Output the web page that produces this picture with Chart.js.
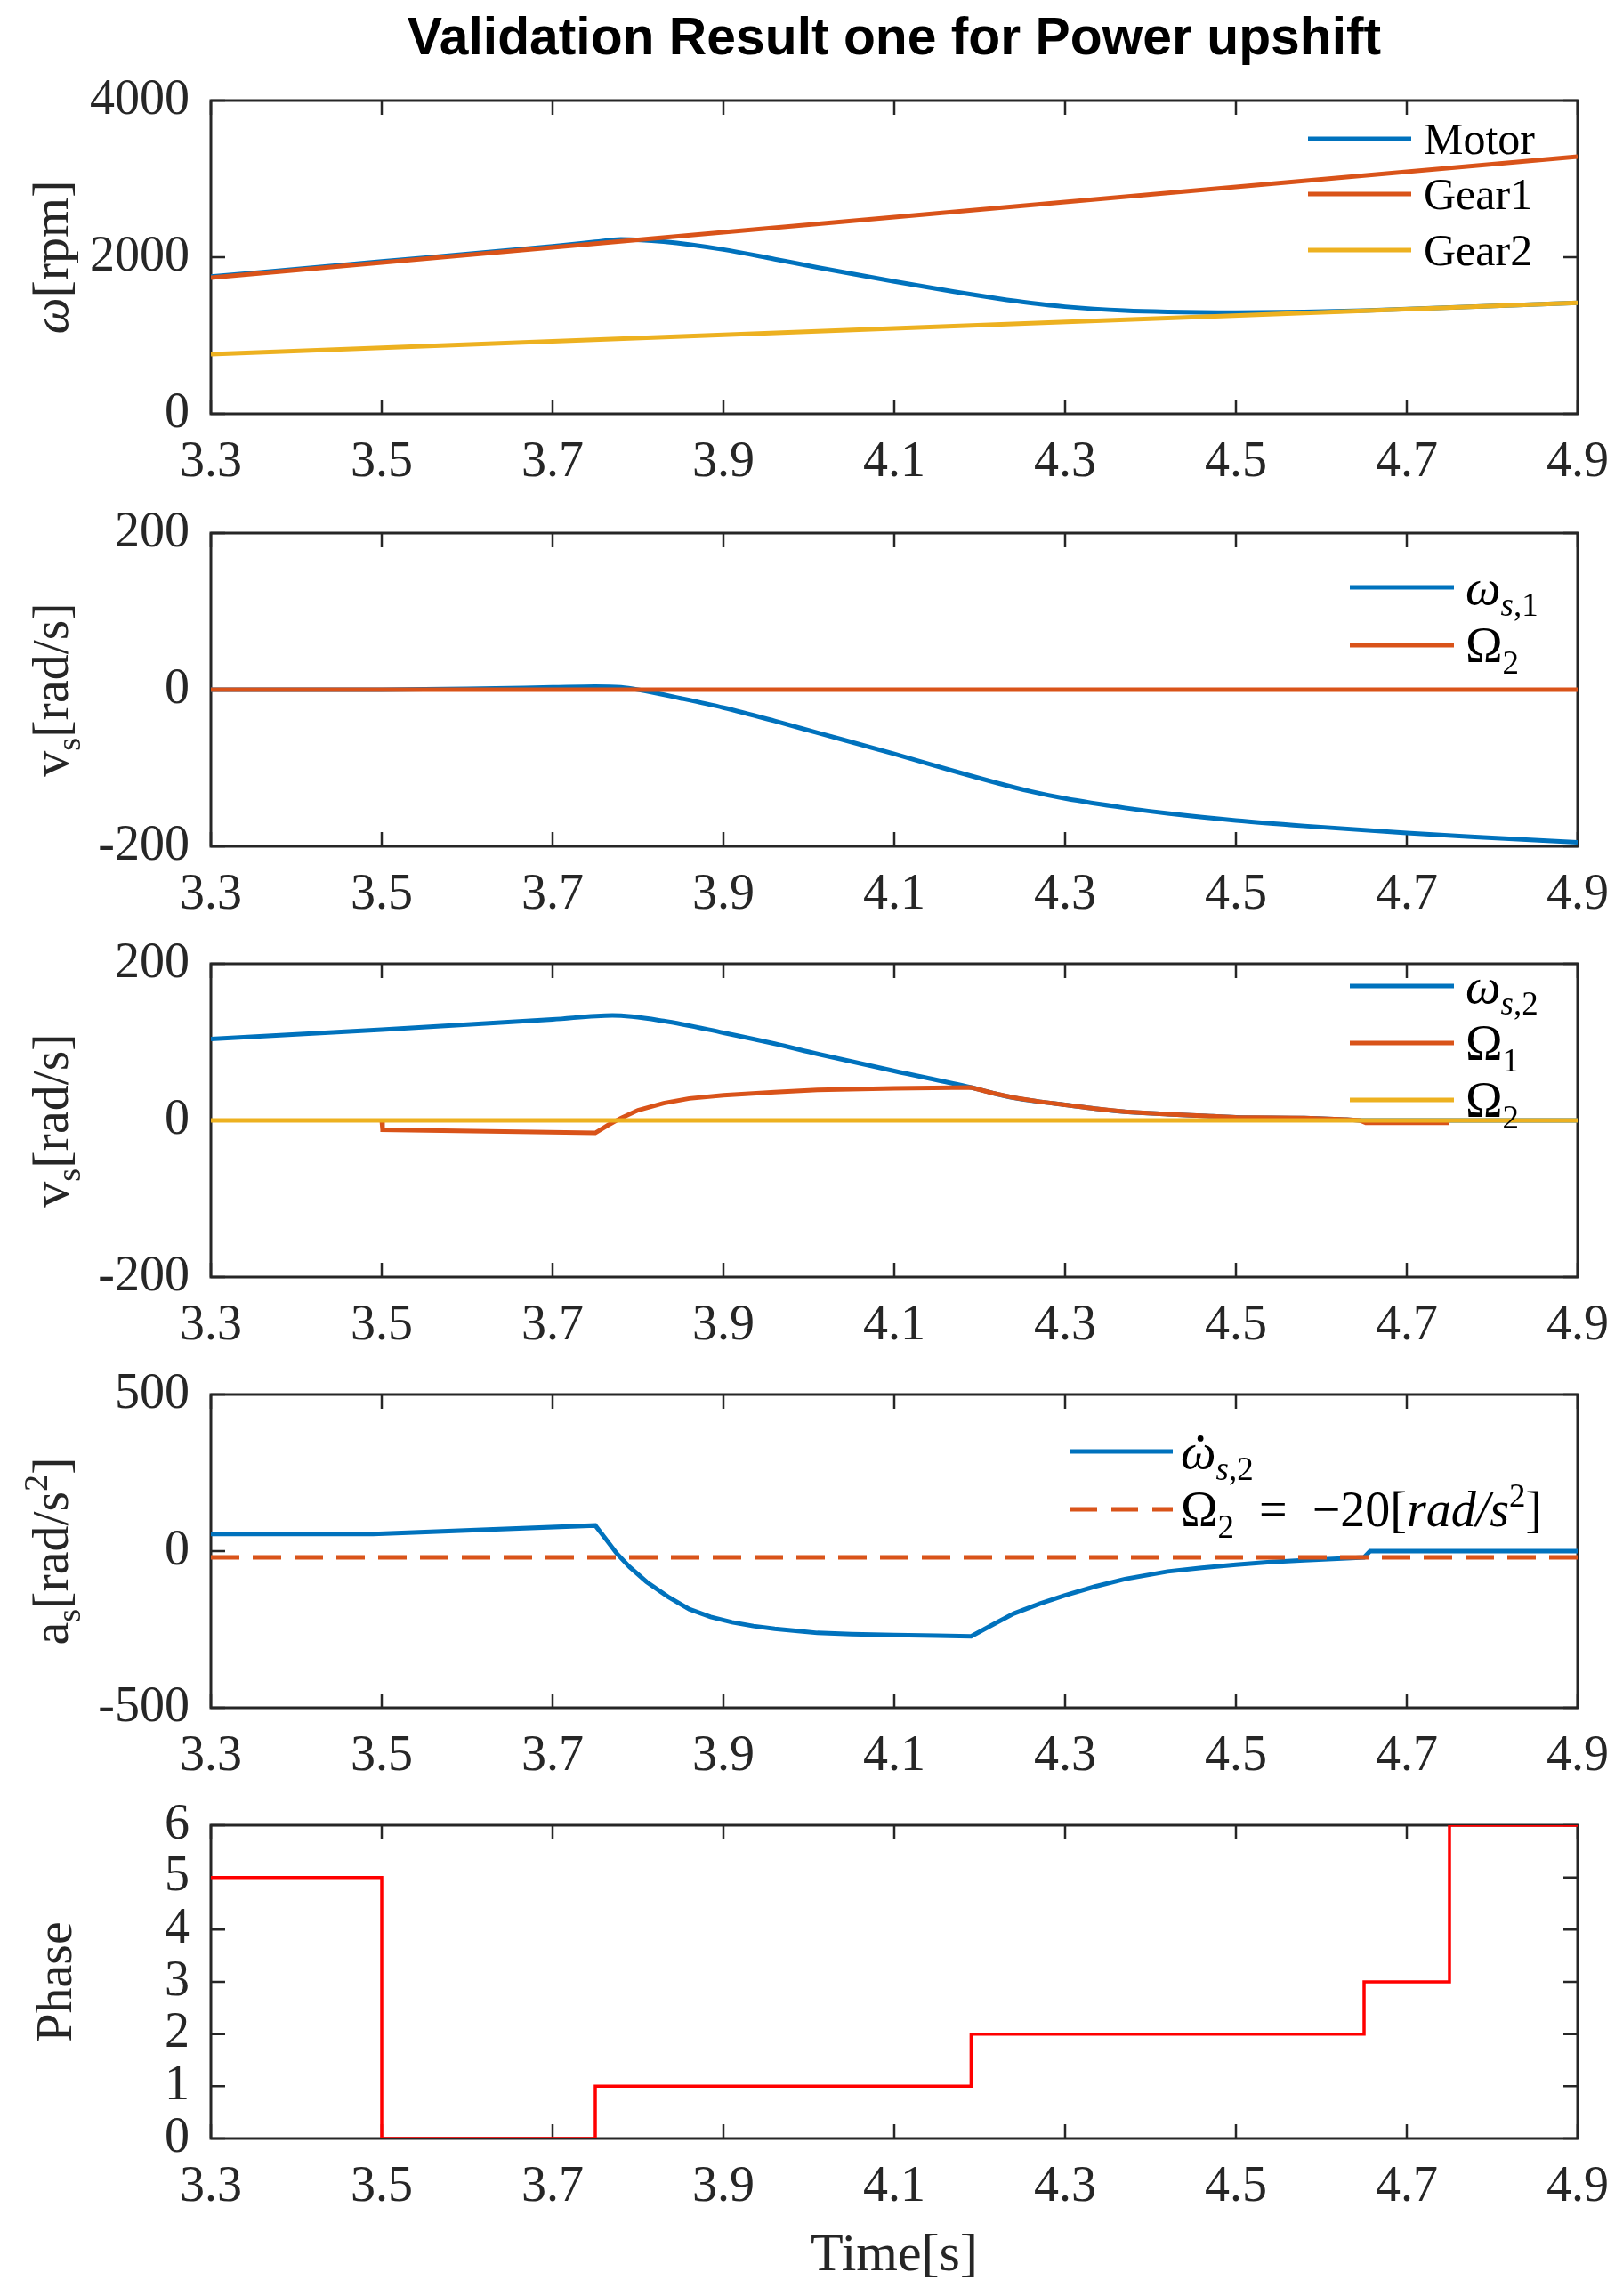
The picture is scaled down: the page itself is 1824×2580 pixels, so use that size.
<!DOCTYPE html>
<html>
<head>
<meta charset="utf-8">
<script src="https://cdn.jsdelivr.net/npm/chart.js@4.4.1/dist/chart.umd.min.js"></script>
<style>
html,body{margin:0;padding:0;background:#fff;}
#fig{position:relative;width:1824px;height:2580px;overflow:hidden;background:#fff;}
#fig canvas{position:absolute;left:0;}
</style>
</head>
<body>
<div id="fig"></div>
<script>
// ---- data ----
const xTicks = [3.3, 3.5, 3.7, 3.9, 4.1, 4.3, 4.5, 4.7, 4.9];
const speedTicks = [0, 2000, 4000];
const velTicks = [-200, 0, 200];
const accTicks = [-500, 0, 500];
const phaseTicks = [0, 1, 2, 3, 4, 5, 6];

// panel 1: speeds [rpm]
const motorTime = [3.3, 3.5, 3.7, 3.75, 3.78, 3.83, 3.9, 3.96, 4.01, 4.1, 4.17, 4.22, 4.26, 4.3, 4.37, 4.42, 4.5, 4.58, 4.65, 4.9];
const motorRpm  = [1752, 1945, 2140, 2195, 2228, 2199, 2098, 1975, 1870, 1690, 1560, 1475, 1415, 1368, 1318, 1302, 1294, 1302, 1318, 1418];
const gearTime  = [3.3, 4.9];
const gear1Rpm  = [1739, 3283];
const gear2Rpm  = [762, 1418];

// panel 2: slip speed clutch 1 [rad/s]
const ws1Time = [3.3, 3.5, 3.6, 3.7, 3.75, 3.78, 3.8, 3.85, 3.9, 3.96, 4.01, 4.1, 4.17, 4.22, 4.26, 4.3, 4.37, 4.42, 4.5, 4.58, 4.7, 4.78, 4.9];
const ws1     = [0, 0, 1, 3, 4, 3, 0, -11, -23, -40, -55, -82, -104, -119, -130, -139, -151, -158, -167, -174, -183, -188, -195];
const zeroTime = [3.3, 4.9];
const zeroLine = [0, 0];

// panel 3: slip speed clutch 2 [rad/s]
const ws2Time = [3.3, 3.5, 3.7, 3.77, 3.83, 3.9, 3.96, 4.01, 4.1, 4.19, 4.215, 4.24, 4.27, 4.3, 4.335, 4.37, 4.42, 4.46, 4.5, 4.58, 4.63, 4.65, 4.9];
const ws2     = [104, 116, 129, 134, 127, 112, 98, 85, 63, 42, 35, 29, 24, 20, 15, 11, 8, 6, 4, 3, 1, 0, 0];
const om1Time = [3.5, 3.501, 3.75, 3.765, 3.78, 3.8, 3.83, 3.86, 3.9, 3.96, 4.01, 4.1, 4.19, 4.215, 4.24, 4.27, 4.3, 4.335, 4.37, 4.42, 4.46, 4.5, 4.58, 4.63, 4.645, 4.652, 4.75];
const om1     = [0, -12, -16, -6, 3, 13, 22, 28, 32, 36, 39, 41, 42, 35, 29, 24, 20, 15, 11, 8, 6, 4, 3, 1, 0, -3, -3];

// panel 4: slip acceleration [rad/s^2]
const wdTime = [3.3, 3.49, 3.75, 3.762, 3.775, 3.79, 3.81, 3.835, 3.86, 3.885, 3.91, 3.935, 3.96, 3.99, 4.01, 4.05, 4.1, 4.15, 4.19,
                4.215, 4.24, 4.27, 4.3, 4.335, 4.37, 4.42, 4.46, 4.5, 4.54, 4.58, 4.63, 4.65, 4.657, 4.9];
const wd     = [55, 55, 82, 40, -7, -50, -98, -145, -185, -210, -227, -239, -248, -256, -261, -265, -268, -270, -272,
                -235, -199, -168, -141, -113, -89, -65, -53, -43, -35, -29, -23, -20, 0, 0];
const accRefTime = [3.3, 4.9];
const accRef     = [-20, -20];

// panel 5: shift phase
const phaseTime = [3.3, 3.5, 3.75, 4.19, 4.65, 4.75, 4.9];
const phaseVal  = [5, 0, 1, 2, 3, 6, 6];

// ---- look ----
const BLUE = '#0072BD', ORANGE = '#D95319', YELLOW = '#EDB120', RED = '#FF0000';
const AXIS = '#262626';
const SERIF = '"Liberation Serif"';
const PLOT_LEFT = 237, PLOT_RIGHT = 1773, PLOT_H = 352, TICK = 16;
const plotTops = [113, 599, 1083, 1567, 2051];
const fig = document.getElementById('fig');

Chart.defaults.font.family = SERIF;

function pts(t, v) { return t.map((x, i) => ({x: x, y: v[i]})); }

function series(t, v, color, order, extra) {
  return Object.assign({
    data: pts(t, v), borderColor: color, borderWidth: 5, pointRadius: 0,
    fill: false, cubicInterpolationMode: 'monotone', order: order
  }, extra || {});
}
const straight = {cubicInterpolationMode: 'default', tension: 0};

// rich text: segments {t, it, sub, sup, dot}
function richParts(ctx, segs, size) {
  return segs.map(s => {
    const small = s.sub || s.sup;
    const sz = small ? size * 0.66 : size;
    const font = (s.it ? 'italic ' : '') + sz + 'px ' + SERIF;
    ctx.font = font;
    return {s: s, font: font, w: ctx.measureText(s.t).width,
            dy: s.sub ? size * 0.24 : (s.sup ? -size * 0.4 : 0)};
  });
}
function drawRich(ctx, segs, size, x, y, align) {
  const parts = richParts(ctx, segs, size);
  const total = parts.reduce((a, p) => a + p.w, 0);
  let cx = align === 'center' ? x - total / 2 : x;
  ctx.textAlign = 'left';
  ctx.textBaseline = 'alphabetic';
  parts.forEach(p => {
    ctx.font = p.font;
    ctx.fillText(p.s.t, cx, y + p.dy);
    if (p.s.dot) {
      ctx.beginPath();
      ctx.arc(cx + p.w * 0.56, y - size * 0.6, size * 0.06, 0, Math.PI * 2);
      ctx.fill();
    }
    cx += p.w;
  });
  return total;
}

const matlabAxes = {
  id: 'matlab',
  beforeDatasetsDraw(chart, args, o) {
    const ctx = chart.ctx, a = chart.chartArea, xs = chart.scales.x, ys = chart.scales.y;
    ctx.save();
    ctx.strokeStyle = AXIS;
    ctx.lineWidth = 3;
    ctx.strokeRect(a.left, a.top, a.right - a.left, a.bottom - a.top);
    ctx.lineWidth = 2.5;
    ctx.beginPath();
    xs.ticks.forEach(t => {
      const p = xs.getPixelForValue(t.value);
      ctx.moveTo(p, a.bottom); ctx.lineTo(p, a.bottom - TICK);
      ctx.moveTo(p, a.top); ctx.lineTo(p, a.top + TICK);
    });
    ys.ticks.forEach(t => {
      const p = ys.getPixelForValue(t.value);
      ctx.moveTo(a.left, p); ctx.lineTo(a.left + TICK, p);
      ctx.moveTo(a.right, p); ctx.lineTo(a.right - TICK, p);
    });
    ctx.stroke();
    ctx.restore();
  },
  afterDatasetsDraw(chart, args, o) {
    const ctx = chart.ctx, a = chart.chartArea;
    ctx.save();
    // legend
    const lg = o.legend;
    lg.items.forEach((it, i) => {
      const ry = a.top + lg.rows[i];
      ctx.strokeStyle = it.color;
      ctx.lineWidth = 5;
      ctx.setLineDash(it.dash || []);
      ctx.beginPath();
      ctx.moveTo(a.right - lg.x0, ry);
      ctx.lineTo(a.right - lg.x1, ry);
      ctx.stroke();
      ctx.setLineDash([]);
      ctx.fillStyle = '#000';
      drawRich(ctx, it.label, lg.size, a.right - lg.tx, ry + lg.size * 0.34, 'left');
    });
    // y label
    ctx.fillStyle = AXIS;
    ctx.translate(o.ylabelX, (a.top + a.bottom) / 2);
    ctx.rotate(-Math.PI / 2);
    drawRich(ctx, o.ylabel, 58, 0, 0, 'center');
    ctx.setTransform(1, 0, 0, 1, 0, 0);
    if (o.title) {
      ctx.fillStyle = '#000';
      ctx.font = 'bold 58px "Liberation Sans"';
      const w = ctx.measureText(o.title).width;
      const sz = 58 * 1094 / w;
      ctx.font = 'bold ' + sz.toFixed(1) + 'px "Liberation Sans"';
      ctx.textAlign = 'center';
      ctx.textBaseline = 'alphabetic';
      ctx.fillText(o.title, (a.left + a.right) / 2, 61);
    }
    if (o.xlabel) {
      ctx.fillStyle = AXIS;
      ctx.font = '60px ' + SERIF;
      ctx.textAlign = 'center';
      ctx.textBaseline = 'alphabetic';
      ctx.fillText(o.xlabel, (a.left + a.right) / 2, a.bottom + 148);
    }
    ctx.restore();
  }
};

const tickFont = {family: SERIF, size: 56};

function makePanel(i, cfg) {
  const top = plotTops[i];
  const cTop = i === 0 ? 0 : top - 70;
  const cH = i === 4 ? 2580 - cTop : top + PLOT_H + 110 - cTop;
  const padTop = top - cTop;
  const cv = document.createElement('canvas');
  cv.width = 1824; cv.height = cH;
  cv.style.top = cTop + 'px';
  cv.style.width = '1824px'; cv.style.height = cH + 'px';
  fig.appendChild(cv);
  return new Chart(cv, {
    type: 'line',
    data: {datasets: cfg.datasets},
    options: {
      responsive: false, animation: false, devicePixelRatio: 1,
      layout: {padding: {left: 0, right: 1824 - PLOT_RIGHT, top: padTop, bottom: 0}},
      scales: {
        x: {
          type: 'linear', min: 3.3, max: 4.9,
          grid: {display: false}, border: {display: false},
          afterBuildTicks: s => { s.ticks = xTicks.map(v => ({value: v})); },
          afterFit: s => { s.height = cH - padTop - PLOT_H; },
          ticks: {padding: 14, font: tickFont, color: AXIS, maxRotation: 0, autoSkip: false,
                  callback: v => Number(v).toFixed(1)}
        },
        y: {
          type: 'linear', min: cfg.ymin, max: cfg.ymax,
          grid: {display: false}, border: {display: false},
          afterBuildTicks: s => { s.ticks = cfg.yTicks.map(v => ({value: v})); },
          afterFit: s => { s.width = PLOT_LEFT; },
          ticks: {padding: 16, font: tickFont, color: AXIS, autoSkip: false,
                  callback: v => String(v)}
        }
      },
      plugins: {
        legend: {display: false},
        tooltip: {enabled: false},
        matlab: {legend: cfg.legend, ylabel: cfg.ylabel, ylabelX: cfg.ylabelX || 76,
                 title: cfg.title, xlabel: cfg.xlabel}
      }
    },
    plugins: [matlabAxes]
  });
}

// panel 1
makePanel(0, {
  ymin: 0, ymax: 4000, yTicks: speedTicks,
  title: 'Validation Result one for Power upshift',
  ylabel: [{t: 'ω', it: true}, {t: '[rpm]'}],
  datasets: [
    series(motorTime, motorRpm, BLUE, 3),
    series(gearTime, gear1Rpm, ORANGE, 2),
    series(gearTime, gear2Rpm, YELLOW, 1)
  ],
  legend: {size: 50, x0: 303, x1: 187, tx: 173, rows: [43, 105, 168], items: [
    {color: BLUE, label: [{t: 'Motor'}]},
    {color: ORANGE, label: [{t: 'Gear1'}]},
    {color: YELLOW, label: [{t: 'Gear2'}]}
  ]}
});

// panel 2
makePanel(1, {
  ymin: -200, ymax: 200, yTicks: velTicks,
  ylabel: [{t: 'v'}, {t: 's', sub: true}, {t: '[rad/s]'}],
  datasets: [
    series(ws1Time, ws1, BLUE, 2),
    series(zeroTime, zeroLine, ORANGE, 1)
  ],
  legend: {size: 56, x0: 256, x1: 139, tx: 126, rows: [61, 126], items: [
    {color: BLUE, label: [{t: 'ω', it: true}, {t: 's', it: true, sub: true}, {t: ',1', sub: true}]},
    {color: ORANGE, label: [{t: 'Ω'}, {t: '2', sub: true}]}
  ]}
});

// panel 3
makePanel(2, {
  ymin: -200, ymax: 200, yTicks: velTicks,
  ylabel: [{t: 'v'}, {t: 's', sub: true}, {t: '[rad/s]'}],
  datasets: [
    series(ws2Time, ws2, BLUE, 3),
    series(om1Time, om1, ORANGE, 2, straight),
    series(zeroTime, zeroLine, YELLOW, 1)
  ],
  legend: {size: 56, x0: 256, x1: 139, tx: 126, rows: [25, 89, 153], items: [
    {color: BLUE, label: [{t: 'ω', it: true}, {t: 's', it: true, sub: true}, {t: ',2', sub: true}]},
    {color: ORANGE, label: [{t: 'Ω'}, {t: '1', sub: true}]},
    {color: YELLOW, label: [{t: 'Ω'}, {t: '2', sub: true}]}
  ]}
});

// panel 4
makePanel(3, {
  ymin: -500, ymax: 500, yTicks: accTicks,
  ylabel: [{t: 'a'}, {t: 's', sub: true}, {t: '[rad/s'}, {t: '2', sup: true}, {t: ']'}],
  datasets: [
    series(wdTime, wd, BLUE, 2, straight),
    series(accRefTime, accRef, ORANGE, 1, {borderDash: [32, 15]})
  ],
  legend: {size: 56, x0: 570, x1: 455, tx: 446, rows: [64, 129], items: [
    {color: BLUE, label: [{t: 'ω', it: true, dot: true}, {t: 's', it: true, sub: true}, {t: ',2', sub: true}]},
    {color: ORANGE, dash: [30, 16], label: [{t: 'Ω'}, {t: '2', sub: true}, {t: '\u2002=\u2002−20['},
      {t: 'rad/s', it: true}, {t: '2', sup: true}, {t: ']'}]}
  ]}
});

// panel 5
makePanel(4, {
  ymin: 0, ymax: 6, yTicks: phaseTicks,
  ylabel: [{t: 'Phase'}],
  ylabelX: 80,
  xlabel: 'Time[s]',
  datasets: [
    series(phaseTime, phaseVal, RED, 1, {stepped: true, borderWidth: 3.5, cubicInterpolationMode: 'default'})
  ],
  legend: {size: 56, x0: 0, x1: 0, tx: 0, rows: [], items: []}
});
</script>
</body>
</html>
